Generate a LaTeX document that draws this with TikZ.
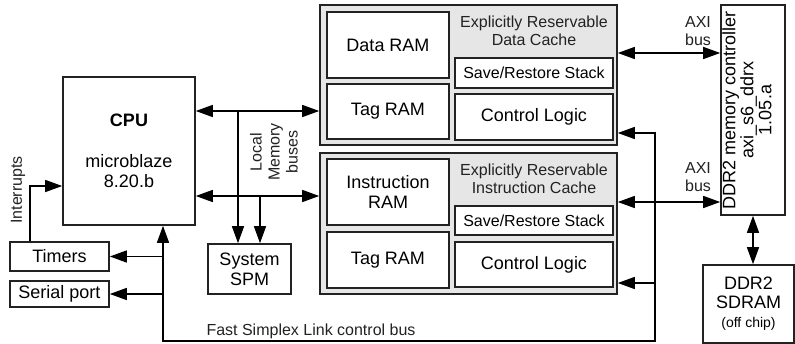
\documentclass[tikz,border=0pt]{standalone}
\usepackage{fontspec}
\setmainfont{Liberation Sans}
\usetikzlibrary{arrows.meta}
\definecolor{cachefill}{HTML}{E6E6E6}
\definecolor{edge}{HTML}{222222}
\tikzset{
	blk/.style={draw=edge, line width=1.6pt, fill=white, inner sep=0pt, align=center, font=\fontsize{18}{20}\selectfont},
	cache/.style={blk, fill=cachefill},
	lbl/.style={inner sep=0pt, align=center, text=edge, font=\fontsize{16}{18}\selectfont},
	arr/.style={line width=1.4pt, -{Triangle[length=17pt,width=12pt]}},
	dbl/.style={line width=1.4pt, {Triangle[length=17pt,width=12pt]}-{Triangle[length=17pt,width=12pt]}},
}
\begin{document}
\begin{tikzpicture}[x=1pt, y=-1pt]
	\useasboundingbox (0,0) rectangle (795,344);

	\node[blk, minimum width=132pt, minimum height=148pt] (cpu) at (129,151) {\textbf{CPU}\\[21pt]microblaze\\8.20.b};
	\node[blk, minimum width=99pt, minimum height=29pt] (timers) at (59.5,256.5) {Timers};
	\node[blk, minimum width=99pt, minimum height=26pt] (serial) at (59.5,294) {Serial port};
	\node[blk, minimum width=83pt, minimum height=50pt] (spm) at (249.5,269) {System\\SPM};
	\node[lbl, rotate=90] (irqlbl) at (18,190) {Interrupts};
	\node[lbl, rotate=90] (lmblbl) at (274,152) {Local\\Memory\\buses};

	\node[cache, minimum width=297pt, minimum height=140pt] (dcache) at (468.5,75) {};
	\node[lbl] (dtitle) at (534,31) {Explicitly Reservable\\Data Cache};
	\node[blk, minimum width=122pt, minimum height=66pt] (dram) at (388,45) {Data RAM};
	\node[blk, minimum width=122pt, minimum height=55pt] (dtag) at (388,111.5) {Tag RAM};
	\node[blk, minimum width=158pt, minimum height=30pt, font=\fontsize{16}{18}\selectfont] (dsave) at (534,73) {Save/Restore Stack};
	\node[blk, minimum width=158pt, minimum height=46pt] (dctrl) at (534,117) {Control Logic};

	\node[cache, minimum width=297pt, minimum height=141pt] (icache) at (468.5,223.5) {};
	\node[lbl] (ititle) at (534,179) {Explicitly Reservable\\Instruction Cache};
	\node[blk, minimum width=122pt, minimum height=66pt] (iram) at (388,192) {Instruction\\RAM};
	\node[blk, minimum width=122pt, minimum height=56pt] (itag) at (388,260) {Tag RAM};
	\node[blk, minimum width=158pt, minimum height=29pt, font=\fontsize{16}{18}\selectfont] (isave) at (534,220.5) {Save/Restore Stack};
	\node[blk, minimum width=158pt, minimum height=45pt] (ictrl) at (534,264.5) {Control Logic};

	\node[blk, minimum width=64pt, minimum height=210pt] (ddrc) at (753,110) {};
	\node[rotate=90, inner sep=0pt, align=center, font=\fontsize{18}{18}\selectfont] (ddrclbl) at (747,110) {DDR2 memory controller\\axi\_s6\_ddrx\\1.05.a};
	\node[blk, minimum width=91pt, minimum height=78pt, font=\fontsize{18}{19}\selectfont] (sdram) at (748.5,304) {DDR2\\SDRAM\\{\fontsize{14}{19}\selectfont(off chip)}};
	\node[lbl] (axidlbl) at (698,31) {AXI\\bus};
	\node[lbl] (axiilbl) at (698,177) {AXI\\bus};
	\node[lbl] (fsllbl) at (311,331) {Fast Simplex Link control bus};

	\coordinate (dbus) at (238,111);
	\coordinate (ibus) at (260,196);
	\draw[dbl] (cpu.east |- dbus) -- (dcache.west |- dbus);
	\draw[dbl] (cpu.east |- ibus) -- (icache.west |- ibus);
	\draw[arr] (dbus) -- (dbus |- spm.north);
	\draw[arr] (ibus) -- (ibus |- spm.north);

	\coordinate (irq) at (30,186);
	\draw[arr] (irq |- timers.north) -- (irq) -- (cpu.west |- irq);

	\coordinate (fslL) at (163,341);
	\coordinate (fslR) at (655,341);
	\coordinate (fslD) at (655,133);
	\coordinate (fslI) at (655,283);
	\draw[dbl] (fslL |- cpu.south) -- (fslL) -- (fslR) -- (fslD) -- (dcache.east |- fslD);
	\draw[arr] (fslI) -- (icache.east |- fslI);
	\foreach \n in {timers, serial}
		\draw[arr] (fslL |- \n.east) -- (\n.east);

	\coordinate (axid) at (669,53);
	\coordinate (axii) at (669,202);
	\draw[dbl] (dcache.east |- axid) -- (ddrc.west |- axid);
	\draw[dbl] (icache.east |- axii) -- (ddrc.west |- axii);
	\draw[dbl] (ddrc.south) -- (ddrc.south |- sdram.north);
\end{tikzpicture}
\end{document}
